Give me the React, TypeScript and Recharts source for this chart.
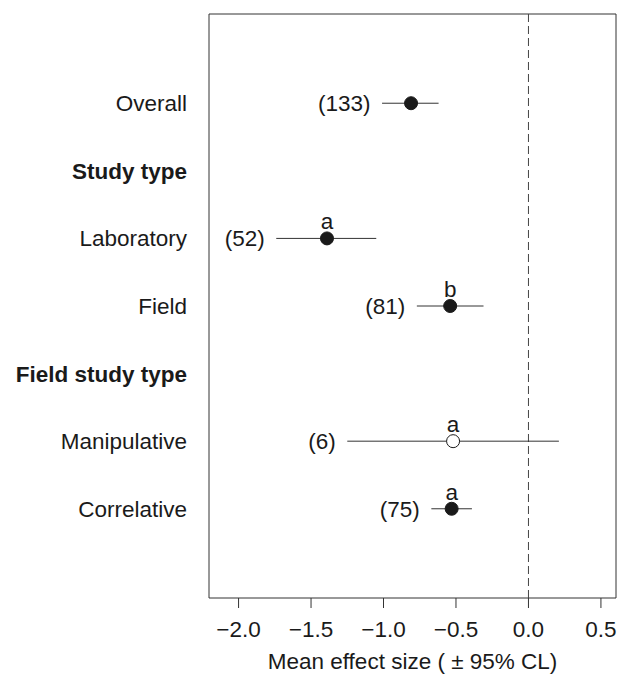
import React from 'react';
import { ScatterChart, Scatter, XAxis, YAxis, ErrorBar, ReferenceLine, ReferenceArea } from 'recharts';

// rows from top to bottom, headers have no estimate
const rowLabels = ['Overall', 'Study type', 'Laboratory', 'Field', 'Field study type', 'Manipulative', 'Correlative'];
const headerRows = [2, 5];

const pointRows = [1, 3, 4, 6, 7];
const means = [-0.81, -1.39, -0.54, -0.52, -0.53];
const lowers = [-1.01, -1.74, -0.77, -1.25, -0.67];
const uppers = [-0.62, -1.05, -0.31, 0.21, -0.39];
const sampleSizes = [133, 52, 81, 6, 75];
const groupLetters = ['', 'a', 'b', 'a', 'a'];
const openPoints = [false, false, false, true, false];

const xTicks = [-2, -1.5, -1, -0.5, 0, 0.5];
const rowTicks = [1, 2, 3, 4, 5, 6, 7];

const X_DOMAIN: [number, number] = [-2.204, 0.604];
const Y_DOMAIN: [number, number] = [-0.32, 8.32];

const FONT = '"Liberation Sans", Arial, Helvetica, sans-serif';
const INK = '#1a1a1a';

const points = pointRows.map((row, i) => ({
  x: means[i],
  y: row,
  err: [means[i] - lowers[i], uppers[i] - means[i]],
  letter: groupLetters[i],
  open: openPoints[i],
}));

const nLabels = pointRows.map((row, i) => ({ x: lowers[i], y: row, n: sampleSizes[i] }));

const fmt = (v: number) => (v < 0 ? '\u2212' + Math.abs(v).toFixed(1) : v.toFixed(1));

const XTick = ({ x, y, payload }: any) => (
  <text x={x} y={y + 27} textAnchor="middle" fontSize={22.5} fontFamily={FONT} fill={INK}>
    {fmt(payload.value)}
  </text>
);

const RowTick = ({ x, y, payload }: any) => {
  const label = rowLabels[payload.value - 1];
  const bold = headerRows.includes(payload.value);
  return (
    <text x={x - 22} y={y + 8} textAnchor="end" fontSize={22.5} fontFamily={FONT}
      fontWeight={bold ? 'bold' : 'normal'} fill={INK}>
      {label}
    </text>
  );
};

const PointShape = (props: any) => {
  const { cx, cy, payload } = props;
  return (
    <g>
      <circle cx={cx} cy={cy} r={6.5} fill={payload.open ? '#fff' : INK} stroke={INK} strokeWidth={1} />
      {payload.letter && (
        <text x={cx} y={cy - 9} textAnchor="middle" fontSize={22.5} fontFamily={FONT} fill={INK}>
          {payload.letter}
        </text>
      )}
    </g>
  );
};

const NShape = (props: any) => {
  const { cx, cy, payload } = props;
  return (
    <text x={cx - 11.5} y={cy + 8} textAnchor="end" fontSize={22.5} fontFamily={FONT} fill={INK}>
      ({payload.n})
    </text>
  );
};

const App: React.FC = () => {
  return (
    <div style={{ position: 'absolute', left: 0, top: 0, width: 617, height: 674, background: '#fff' }}>
      <ScatterChart width={617} height={674} margin={{ top: 14, right: 1, left: 9, bottom: 0 }}>
        <XAxis
          type="number"
          dataKey="x"
          domain={X_DOMAIN}
          allowDataOverflow
          ticks={xTicks}
          interval={0}
          axisLine={false}
          tickLine={{ stroke: '#333' }}
          tickSize={10}
          tick={<XTick />}
          height={76}
          label={{
            value: 'Mean effect size ( \u00b1 95% CL)',
            position: 'insideBottom',
            offset: 5,
            fontSize: 22.5,
            fontFamily: FONT,
            fill: INK,
          }}
        />
        <YAxis
          type="number"
          dataKey="y"
          domain={Y_DOMAIN}
          allowDataOverflow
          reversed
          ticks={rowTicks}
          interval={0}
          axisLine={false}
          tickLine={false}
          tickSize={0}
          tickMargin={0}
          tick={<RowTick />}
          width={200}
        />
        <ReferenceArea x1={X_DOMAIN[0]} x2={X_DOMAIN[1]} y1={Y_DOMAIN[0]} y2={Y_DOMAIN[1]}
          fill="none" fillOpacity={0} stroke="#333" strokeWidth={1} />
        <ReferenceLine x={0} stroke="#444" strokeDasharray="8 4" strokeWidth={1} />
        <Scatter data={points} shape={<PointShape />} isAnimationActive={false}>
          <ErrorBar dataKey="err" direction="x" width={0} stroke="#333" strokeWidth={1} isAnimationActive={false} />
        </Scatter>
        <Scatter data={nLabels} shape={<NShape />} isAnimationActive={false} />
      </ScatterChart>
    </div>
  );
};

export default App;
